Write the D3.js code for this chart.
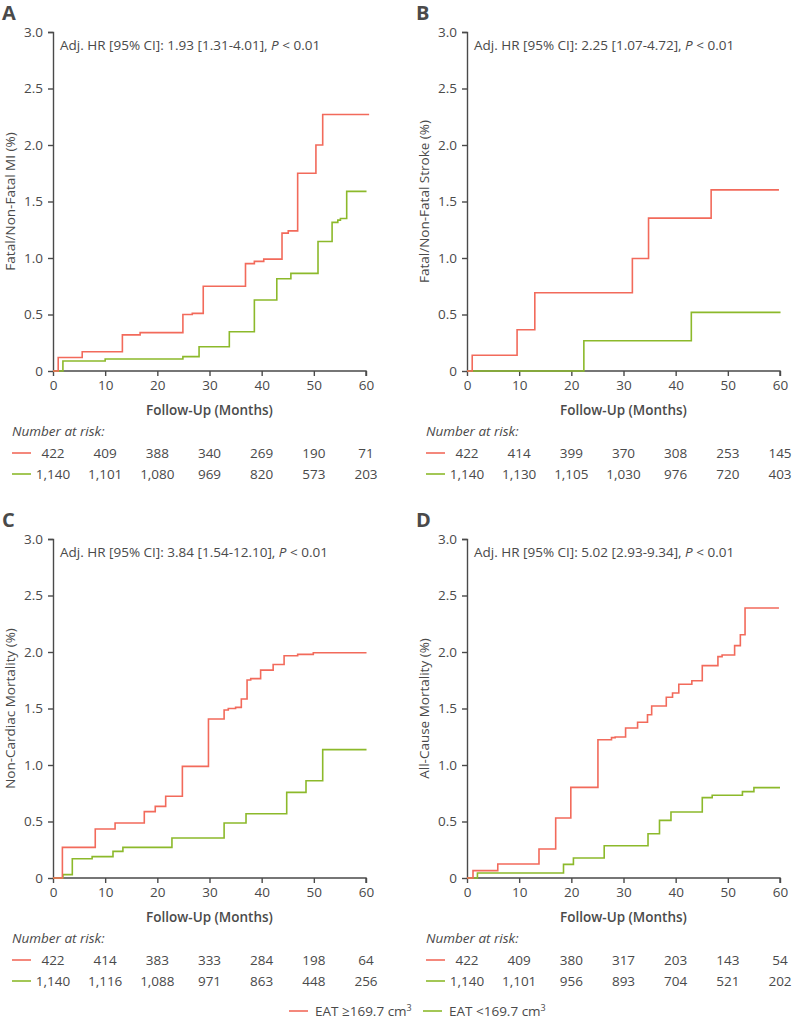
<!DOCTYPE html>
<html>
<head>
<meta charset="utf-8">
<script src="https://cdn.jsdelivr.net/npm/d3@7"></script>
<style>
  html, body { margin: 0; padding: 0; background: #fff; }
  svg { display: block; font-family: "Open Sans", "Noto Sans", sans-serif; }
</style>
</head>
<body>
<svg id="chart" width="792" height="1020"></svg>
<script>
// ---------- data ----------
const monthTicks = [0, 10, 20, 30, 40, 50, 60];
const pctTicks = [0, 0.5, 1.0, 1.5, 2.0, 2.5, 3.0];
const groupLabels = ["EAT \u2265169.7 cm", "EAT <169.7 cm"];
const panelLetters = ["A", "B", "C", "D"];
const yTitles = ["Fatal/Non-Fatal MI (%)", "Fatal/Non-Fatal Stroke (%)", "Non-Cardiac Mortality (%)", "All-Cause Mortality (%)"];
const hrTexts = ["1.93 [1.31-4.01]", "2.25 [1.07-4.72]", "3.84 [1.54-12.10]", "5.02 [2.93-9.34]"];

// step curves: [month, cumulative %]
const miHigh = [[0,0],[1,0.12],[5.6,0.17],[13.3,0.32],[16.7,0.34],[24.9,0.50],[26.7,0.51],[28.8,0.75],[36.9,0.95],[38.6,0.97],[40.4,0.99],[43.9,1.22],[45.1,1.24],[46.9,1.75],[50.4,2.00],[51.7,2.27],[60.6,2.27]];
const miLow = [[0,0],[1.9,0.088],[10,0.106],[24.9,0.127],[28,0.215],[33.8,0.348],[38.6,0.628],[42.9,0.816],[45.6,0.864],[50.8,1.146],[53.5,1.315],[54.6,1.335],[55.1,1.35],[56.3,1.59],[60.1,1.59]];
const strokeHigh = [[0,0],[1,0.139],[9.6,0.365],[13,0.693],[31.7,0.996],[34.8,1.353],[46.8,1.603],[59.8,1.603]];
const strokeLow = [[0,0],[22.4,0.268],[43,0.519],[60.1,0.519]];
const noncardHigh = [[0,0],[1.8,0.271],[8.1,0.434],[11.9,0.487],[17.5,0.587],[19.6,0.634],[21.6,0.723],[24.8,0.988],[29.8,1.407],[32.8,1.487],[33.6,1.50],[35.0,1.51],[36.1,1.584],[37.2,1.752],[37.9,1.764],[39.8,1.84],[42.2,1.89],[44.3,1.967],[46.9,1.979],[49.9,1.994],[60.1,1.994]];
const noncardLow = [[0,0],[1.9,0.03],[3.7,0.171],[7.5,0.189],[11.5,0.236],[13.4,0.271],[22.8,0.354],[32.8,0.487],[37,0.569],[44.8,0.758],[48.5,0.861],[51.7,1.136],[60.1,1.136]];
const allcauseHigh = [[0,0],[1.15,0.065],[5.9,0.124],[13.8,0.257],[17,0.531],[19.9,0.802],[25.1,1.224],[27.7,1.242],[28.4,1.248],[30.4,1.327],[32.7,1.378],[34.6,1.445],[35.4,1.522],[38.2,1.599],[39.4,1.637],[40.6,1.714],[43.1,1.746],[45.1,1.879],[48.1,1.959],[48.9,1.973],[51.3,2.056],[52.4,2.153],[53.3,2.389],[59.8,2.389]];
const allcauseLow = [[0,0],[2,0.044],[18.5,0.121],[20.4,0.177],[26.3,0.286],[34.7,0.392],[36.9,0.51],[39.1,0.584],[45.1,0.711],[47,0.732],[52.8,0.764],[55,0.80],[60,0.80]];

// number at risk
const miRiskHigh = ["422","409","388","340","269","190","71"];
const miRiskLow = ["1,140","1,101","1,080","969","820","573","203"];
const strokeRiskHigh = ["422","414","399","370","308","253","145"];
const strokeRiskLow = ["1,140","1,130","1,105","1,030","976","720","403"];
const noncardRiskHigh = ["422","414","383","333","284","198","64"];
const noncardRiskLow = ["1,140","1,116","1,088","971","863","448","256"];
const allcauseRiskHigh = ["422","409","380","317","203","143","54"];
const allcauseRiskLow = ["1,140","1,101","956","893","704","521","202"];

// ---------- layout ----------
const RED = "#f26a5b", GREEN = "#8cb92b", INK = "#4a4a4a";
const panels = [
  {left: 53,  top: 32,  high: miHigh, low: miLow, rh: miRiskHigh, rl: miRiskLow},
  {left: 467, top: 32,  high: strokeHigh, low: strokeLow, rh: strokeRiskHigh, rl: strokeRiskLow},
  {left: 53,  top: 539, high: noncardHigh, low: noncardLow, rh: noncardRiskHigh, rl: noncardRiskLow},
  {left: 467, top: 539, high: allcauseHigh, low: allcauseLow, rh: allcauseRiskHigh, rl: allcauseRiskLow}
];
const W = 313, H = 339;

const svg = d3.select("#chart");

panels.forEach((p, i) => {
  const g = svg.append("g").attr("transform", `translate(${p.left},${p.top})`);
  const x = d3.scaleLinear().domain([0, 60]).range([0, W]);
  const y = d3.scaleLinear().domain([0, 3]).range([H, 0]);

  // panel letter
  svg.append("text").attr("x", p.left - 51).attr("y", p.top - 12)
    .attr("font-size", 20).attr("font-weight", 700).attr("fill", INK)
    .attr("font-family", "'Open Sans', sans-serif")
    .text(panelLetters[i]);

  // axes
  const yAxis = d3.axisLeft(y).tickValues(pctTicks).tickSize(5).tickPadding(5)
    .tickFormat(d => d === 0 ? "0" : d3.format(".1f")(d));
  const xAxis = d3.axisBottom(x).tickValues(monthTicks).tickSize(5).tickPadding(4);
  const ya = g.append("g").call(yAxis);
  const xa = g.append("g").attr("transform", `translate(0,${H})`).call(xAxis);
  [ya, xa].forEach(a => {
    a.select(".domain").attr("stroke", INK).attr("stroke-width", 1.4);
    a.selectAll(".tick line").attr("stroke", INK).attr("stroke-width", 1.4);
    a.selectAll(".tick text").attr("fill", INK).attr("font-size", 13.5)
      .attr("font-family", "'Open Sans', sans-serif");
  });
  ya.select(".domain").attr("d", `M-5,0.5H0.5V${H}`);
  xa.select(".domain").attr("d", `M0,0H${W}V5`);

  // curves
  const line = d3.line().x(d => x(d[0])).y(d => y(d[1])).curve(d3.curveStepAfter);
  g.append("path").datum(p.low).attr("d", line).attr("fill", "none")
    .attr("stroke", GREEN).attr("stroke-width", 1.6);
  g.append("path").datum(p.high).attr("d", line).attr("fill", "none")
    .attr("stroke", RED).attr("stroke-width", 1.6);

  // HR annotation
  const t = g.append("text").attr("x", 7).attr("y", 18)
    .attr("font-size", 13.5).attr("fill", INK);
  t.append("tspan").text(`Adj. HR [95% CI]: ${hrTexts[i]}, `);
  t.append("tspan").attr("font-style", "italic").text("P");
  t.append("tspan").text(" < 0.01");

  // y title
  g.append("text")
    .attr("transform", `translate(${-38},${H / 2}) rotate(-90)`)
    .attr("text-anchor", "middle").attr("font-size", 13.5).attr("font-weight", 500)
    .attr("fill", INK).text(yTitles[i]);

  // x title
  g.append("text").attr("x", W / 2).attr("y", H + 44)
    .attr("text-anchor", "middle").attr("font-size", 13.5).attr("font-weight", 600)
    .attr("fill", INK).text("Follow-Up (Months)");

  // number at risk
  g.append("text").attr("x", -41).attr("y", H + 65)
    .attr("font-size", 13.5).attr("font-style", "italic").attr("fill", INK)
    .text("Number at risk:");
  [[p.rh, RED, H + 87], [p.rl, GREEN, H + 108]].forEach(([vals, col, yy]) => {
    g.append("line").attr("x1", -41).attr("x2", -22).attr("y1", yy - 5).attr("y2", yy - 5)
      .attr("stroke", col).attr("stroke-width", 1.6);
    g.selectAll(null).data(vals).enter().append("text")
      .attr("x", (d, k) => x(monthTicks[k])).attr("y", yy)
      .attr("text-anchor", "middle").attr("font-size", 13.5).attr("fill", INK)
      .text(d => d);
  });
});

// legend
const legend = svg.append("g");
[[RED, 289, groupLabels[0]], [GREEN, 423, groupLabels[1]]].forEach(([col, lx, lab]) => {
  legend.append("line").attr("x1", lx).attr("x2", lx + 19).attr("y1", 1011).attr("y2", 1011)
    .attr("stroke", col).attr("stroke-width", 1.6);
  const tt = legend.append("text").attr("x", lx + 26).attr("y", 1016)
    .attr("font-size", 13.5).attr("fill", INK);
  tt.append("tspan").text(lab);
  tt.append("tspan").attr("font-size", 9).attr("dy", -5).text("3");
});
</script>
</body>
</html>
